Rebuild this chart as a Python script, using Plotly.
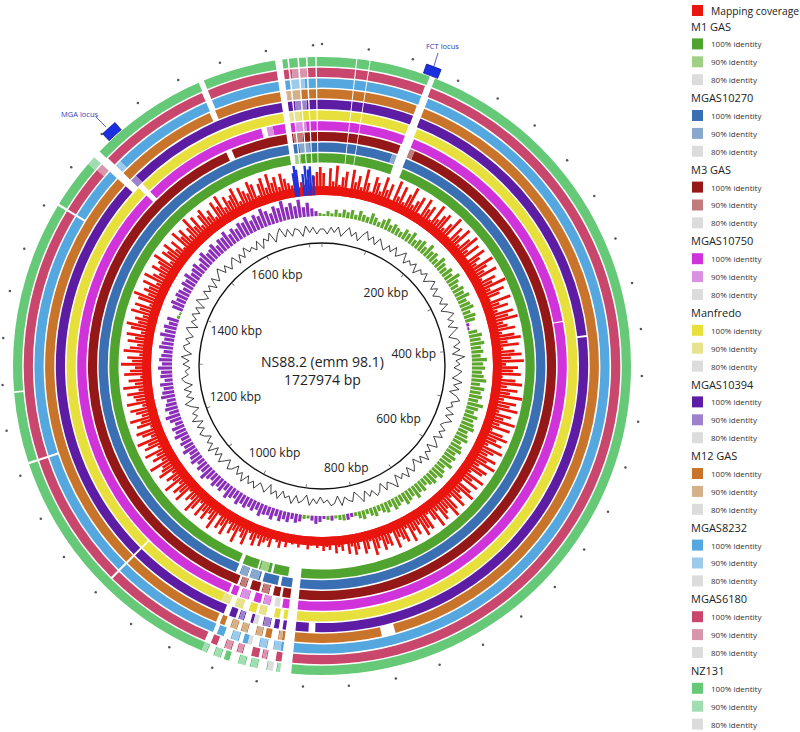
import math
import plotly.graph_objects as go

# ---------------- data ----------------
GENOME_KBP = 1727.974
genome_name = "NS88.2 (emm 98.1)"
genome_len_label = "1727974 bp"

strains = ["M1 GAS", "MGAS10270", "M3 GAS", "MGAS10750", "Manfredo",
           "MGAS10394", "M12 GAS", "MGAS8232", "MGAS6180", "NZ131"]
color_100 = ["#4fa32e", "#3b6fb3", "#951818", "#d033da", "#e6df3c",
             "#5c1ca4", "#c8742a", "#55a8df", "#c9466c", "#66c977"]
color_90 = ["#a0d086", "#88a7cc", "#c07b7b", "#d991e2", "#e6e290",
            "#9d82cb", "#d4b18b", "#9dcaea", "#d796ab", "#a0ddb2"]
color_80 = "#dcdcdc"
identity_levels = ["100% identity", "90% identity", "80% identity"]
coverage_color = "#e8160f"
coverage_label = "Mapping coverage"

# BLAST-hit gaps shared by every ring (kbp)
common_gaps = [[30.6, 31.6], [42.6, 43.5], [891.5, 901.5], [1686, 1692.5],
               [1697, 1698.4], [1706, 1707.4], [1713.6, 1715], [1722, 1723.2]]

# ring-specific gaps (kbp), inner ring first
ring_gaps = [
    [[94, 107], [901.5, 908], [928, 931], [947, 949], [969, 974]],
    [[94, 106], [915, 919], [938, 942], [955, 958], [968, 973]],
    [[94, 106], [911, 914], [922, 927], [936, 939], [950, 955], [963, 966], [1612, 1619]],
    [[95, 106], [381, 382.2], [909, 912], [918, 923], [931, 934], [942, 948], [958, 962],
     [969, 972], [1508, 1514], [1659, 1665]],
    [[95, 105], [906, 910], [916, 925], [933, 936], [944, 951], [960, 966], [1078, 1080],
     [1508, 1514]],
    [[96, 104], [400, 402], [871, 878], [905, 909], [914, 918], [926, 931], [939, 946],
     [952, 955], [962, 968], [1078, 1080], [1500, 1508]],
    [[96, 104], [790, 804], [908, 915], [921, 924], [931, 939], [946, 950], [957, 963],
     [968, 972], [1078, 1080], [1500, 1508], [1613, 1619]],
    [[97, 104], [911, 917], [925, 932], [941, 945], [953, 960], [967, 971], [1078, 1080],
     [1207, 1209], [1446, 1448], [1500, 1508], [1614, 1620]],
    [[97, 103], [907, 915], [920, 923], [930, 938], [944, 949], [956, 963], [969, 975],
     [1078, 1080], [1207, 1209], [1446, 1448], [1500, 1508], [1614, 1620]],
    [[98, 103], [905, 908], [914, 922], [929, 933], [940, 948], [953, 956], [963, 969],
     [1207, 1209], [1272, 1273.5], [1446, 1448], [1500, 1507], [1615, 1620]],
]
# 90% identity stretches (kbp)
ring_light = [
    [[935, 945], [1693, 1700]],
    [[88, 94], [944, 954], [959, 967], [1700, 1712]],
    [[106, 112], [928, 935], [956, 962], [1694, 1705]],
    [[924, 930], [949, 957], [1665, 1672], [1699, 1710]],
    [[926, 932], [952, 959], [967, 975], [1693, 1704]],
    [[919, 925], [947, 951], [1508, 1515], [1700, 1712]],
    [[904, 907], [925, 930], [940, 945], [951, 956], [1693, 1706]],
    [[904, 910], [918, 924], [946, 952], [1508, 1514], [1698, 1711]],
    [[916, 919], [939, 943], [950, 955], [1493, 1500], [1700, 1713]],
    [[901, 904], [923, 928], [934, 939], [957, 962], [970, 974], [1492, 1500]],
]
# 80% identity stretches (kbp)
ring_faint = [[], [], [], [[912, 918]], [], [[931, 936]], [], [[932, 936]], [], [[908, 913]]]

# mapping coverage (height of each of 360 equal bins)
coverage = [
    22, 9, 27, 14, 30, 11, 19, 25, 8, 28, 16, 23, 12, 31, 18, 10, 26, 21, 13, 29,
    17, 24, 9, 30, 15, 27, 12, 22, 31, 14, 20, 26, 10, 28, 19, 24, 11, 30, 16, 23,
    27, 13, 21, 31, 10, 25, 18, 29, 12, 23, 30, 15, 26, 9, 28, 20, 14, 31, 22, 17,
    29, 11, 24, 19, 32, 14, 27, 21, 10, 30, 17, 25, 13, 28, 22, 31, 15, 19, 26, 12,
    24, 30, 16, 27, 11, 22, 29, 18, 31, 13, 25, 20, 28, 10, 23, 30, 15, 26, 19, 32,
    14, 27, 21, 30, 12, 25, 18, 31, 16, 28, 11, 23, 29, 19, 26, 13, 30, 22, 17, 28,
    20, 31, 15, 26, 23, 12, 29, 18, 27, 10, 24, 30, 16, 21, 28, 13, 25, 31, 19, 22,
    27, 14, 30, 20, 11, 26, 23, 29, 15, 24, 18, 28, 12, 25, 21, 17, 27, 10, 22, 19,
    24, 13, 20, 26, 11, 18, 22, 9, 16, 21, 12, 19, 8, 15, 11, 17, 7, 13, 10, 14,
    6, 11, 5, 9, 13, 4, 8, 12, 7, 10, 5, 14, 9, 16, 11, 7, 18, 12, 15, 20,
    13, 22, 17, 11, 25, 19, 14, 27, 16, 21, 12, 26, 18, 23, 10, 28, 20, 15, 24, 17,
    25, 12, 22, 28, 16, 20, 11, 27, 19, 24, 14, 29, 17, 22, 13, 26, 21, 18, 30, 15,
    23, 17, 28, 12, 25, 20, 30, 14, 22, 27, 11, 24, 19, 29, 16, 21, 26, 13, 28, 18,
    20, 26, 14, 29, 17, 23, 11, 27, 21, 16, 30, 19, 24, 12, 28, 22, 15, 25, 18, 27,
    13, 24, 29, 18, 22, 15, 28, 20, 26, 12, 25, 31, 17, 23, 19, 27, 14, 29, 21, 16,
    26, 19, 23, 30, 13, 25, 21, 28, 16, 24, 11, 29, 20, 26, 15, 22, 31, 18, 27, 14,
    24, 28, 17, 22, 12, 27, 20, 30, 15, 25, 19, 23, 29, 13, 26, 21, 17, 28, 24, 11,
    22, 27, 16, 29, 19, 24, 13, 26, 20, 15, 12, 18, 9, 14, 11, 16, 10, 19, 23, 28,
]
# phage-like coverage peaks drawn in blue
phage_kbp = [1686.5, 1689, 1691.5, 1700, 1704, 1708, 1711, 1715]
phage_height = [24, 31, 27, 22, 30, 26, 29, 20]

# GC skew (240 bins; + green, - purple)
gc_skew = [
    2, 5, 3, 7, 4, 8, 6, 9, 5, 10, 7, 6, 11, 8, 5, 9, 12, 7, 10, 8,
    6, 11, 9, 13, 7, 10, 12, 8, 14, 9, 11, 7, 13, 10, 8, 12, 9, 15, 11, 8,
    12, 10, 14, 9, 11, 13, 8, 12, 10, -3, -2, 9, 13, 11, 14, 10, 12, 9, 15, 11,
    13, 10, 12, 15, 9, 14, 11, 13, 10, 16, 12, 9, 14, 11, 13, 15, 10, 12, 14, 9,
    12, 14, 10, 13, 11, 15, 9, 12, 14, 10, 13, 11, 8, 12, 10, 14, 9, 11, 13, 8,
    10, 12, 7, 11, 9, 6, 10, 8, 5, 9, 7, 4, -4, -6, 6, 5, 3, -5, 4, -3,
    -6, -8, -5, 3, 4, -7, -9, -6, -10, -8, -11, -7, -12, -9, -10, -13, -8, -11, -9, -12,
    -10, -13, -9, -11, -14, -8, -12, -10, -13, -9, -11, -15, -10, -12, -8, -13, -11, -9, -14, -10,
    -12, -9, -14, -11, -13, -8, -12, -15, -10, -13, -11, -9, -14, -12, -10, -13, -8, -12, -11, -14,
    -10, -13, -11, -9, -14, -12, -10, -15, -11, -13, -9, -12, 3, 2, -11, -14, -10, -13, -12, -9,
    -13, -11, -15, -10, -12, -14, -9, -13, -16, -11, -12, -15, -10, -14, -13, -17, -11, -15, -12, -16,
    -14, -18, -12, -16, -13, -19, -15, -11, -17, -14, -20, -13, -16, -12, -18, -10, -14, -8, -5, 3,
]
# GC content deviation (240 bins)
gc_content = [
    2, -3, 4, -1, 5, -4, 1, 6, -2, 3, -5, 2, 7, -1, 4, -3, 5, 0, -4, 3,
    -2, 5, -3, 1, 6, -4, 2, -1, 4, -5, 3, 0, 5, -3, 2, 6, -2, 4, -4, 1,
    3, -2, 5, -4, 2, 7, -1, 4, -3, 6, 0, -5, 3, 5, -2, 4, -4, 8, -1, 3,
    -3, 5, 1, -4, 6, -2, 4, -5, 3, 7, -1, 2, -4, 5, -2, 6, 0, -3, 4, -1,
    5, -3, 2, 6, -4, 3, -1, 7, -2, 4, -5, 1, 5, -3, 6, -1, 3, -4, 8, 2,
    -2, 5, -4, 3, 6, -1, 4, -3, 7, 0, -5, 4, 2, -2, 6, -4, 3, 5, -1, 2,
    -4, 3, -2, 5, -5, 1, 4, -3, 6, -1, 2, -4, 5, -2, 3, -6, 4, 0, -3, 5,
    -1, 4, -3, 6, -2, 3, -5, 2, 5, -4, 1, 6, -2, 4, -3, 7, -1, 3, -4, 2,
    5, -2, 4, -4, 6, -1, 3, -5, 2, 7, -3, 4, -2, 5, -4, 3, 6, -1, 2, -3,
    4, -2, 6, -4, 3, 5, -1, 4, -3, 2, 6, -5, 3, -1, 5, -2, 4, -4, 7, 1,
    -3, 5, -1, 4, -4, 6, -2, 3, 8, -1, 5, -3, 2, 6, -4, 4, -2, 7, 0, 3,
    -2, 6, -4, 5, 1, 8, -3, 4, 9, -1, 6, -2, 5, 3, -4, 6, -1, 4, -3, 2,
]

tick_kbp = [0, 100, 200, 300, 400, 500, 600, 700, 800, 900, 1000, 1100, 1200,
            1300, 1400, 1500, 1600, 1700]
label_kbp = [200, 400, 600, 800, 1000, 1200, 1400, 1600]
label_text = ["200 kbp", "400 kbp", "600 kbp", "800 kbp", "1000 kbp",
              "1200 kbp", "1400 kbp", "1600 kbp"]

loci_name = ["FCT locus", "MGA locus"]
loci_kbp = [98.4, 1527.0]

# small stray marks outside the map (angle deg, radius px-units)
dot_theta = [349.9, 358.4, 0, 341.4, 333.3, 325, 308.4, 8.4, 16.5, 25.5, 33.3, 41.5, 50,
             58, 66.5, 75, 83.4, 91.8, 100, 108.5, 117, 125, 133.5, 141.5, 150, 158.5,
             166.7, 175.2, 183.4, 191.7, 200, 208.5, 216.5, 225, 233.5, 241.5, 250,
             258.4, 266.6, 275, 283.5, 291.5, 300, 316.5]
dot_r = [320, 321, 322, 320, 320, 321, 320, 320, 320, 316, 320, 321, 320, 321, 320, 321,
         321, 320, 321, 320, 321, 320, 321, 320, 322, 321, 321, 321, 321, 322, 321, 320,
         321, 320, 321, 320, 321, 322, 320, 320, 321, 320, 321, 320]

# ---------------- layout constants ----------------
W, H = 800, 732
CX, CY, RMAX = 322, 366, 322
FONT = "Open Sans"


def deg(k):
    return k / GENOME_KBP * 360.0


def segments(gaps, light, faint):
    pts = {0.0, GENOME_KBP}
    for lst in (gaps, light, faint):
        for a, b in lst:
            pts.add(float(a))
            pts.add(float(b))
    pts = sorted(pts)
    out = []
    for a, b in zip(pts[:-1], pts[1:]):
        m = (a + b) / 2
        if any(x <= m <= y for x, y in gaps):
            lvl = None
        elif any(x <= m <= y for x, y in faint):
            lvl = 80
        elif any(x <= m <= y for x, y in light):
            lvl = 90
        else:
            lvl = 100
        if out and out[-1][2] == lvl:
            out[-1][1] = b
        else:
            out.append([a, b, lvl])
    return out


fig = go.Figure()


def ring_trace(segs, inner, thick, color):
    if not segs:
        return
    fig.add_trace(go.Barpolar(
        theta=[deg((a + b) / 2) for a, b in segs],
        width=[deg(b - a) for a, b in segs],
        r=[thick] * len(segs), base=[inner] * len(segs),
        marker=dict(color=color, line=dict(width=0)),
        showlegend=False, hoverinfo="skip"))


def spikes(theta, heights, base, width, color):
    th = [t for t, h in zip(theta, heights) if h > 0]
    hh = [h for h in heights if h > 0]
    fig.add_trace(go.Barpolar(theta=th, r=hh, base=[base] * len(th), width=[width] * len(th),
                              marker=dict(color=color, line=dict(width=0)),
                              showlegend=False, hoverinfo="skip"))


# BLAST rings
for i in range(len(strains)):
    outer = 309 - 10.7 * (9 - i)
    thick = 9.2
    segs = segments(common_gaps + ring_gaps[i], ring_light[i], ring_faint[i])
    for lvl, col in ((100, color_100[i]), (90, color_90[i]), (80, color_80)):
        ring_trace([(a, b) for a, b, l in segs if l == lvl], outer - thick, thick, col)

# inner black circle and ticks
fig.add_trace(go.Barpolar(theta=[180], width=[360], r=[1.4], base=[122.3],
                          marker=dict(color="#111", line=dict(width=0)),
                          showlegend=False, hoverinfo="skip"))
fig.add_trace(go.Barpolar(theta=[deg(k) for k in tick_kbp], width=[0.35] * len(tick_kbp),
                          r=[3.5] * len(tick_kbp), base=[119] * len(tick_kbp),
                          marker=dict(color="#555", line=dict(width=0)),
                          showlegend=False, hoverinfo="skip"))

# GC content line
n = len(gc_content)
gth = [(j + 0.5) * 360.0 / n for j in range(n)]
fig.add_trace(go.Scatterpolar(theta=gth + [gth[0]], r=[135 + v for v in gc_content] + [135 + gc_content[0]],
                              mode="lines", line=dict(color="#111", width=0.8),
                              showlegend=False, hoverinfo="skip"))

# GC skew
n = len(gc_skew)
sth = [(j + 0.5) * 360.0 / n for j in range(n)]
spikes(sth, [max(v, 0) for v in gc_skew], 150, 1.15, "#5ea72c")
spikes(sth, [max(-v, 0) for v in gc_skew], 150, 1.15, "#8b2fba")

# mapping coverage
n = len(coverage)
cth = [(j + 0.5) * 360.0 / n for j in range(n)]
fig.add_trace(go.Barpolar(theta=[180], width=[360], r=[9], base=[171],
                          marker=dict(color=coverage_color, line=dict(width=0)),
                          showlegend=False, hoverinfo="skip"))
spikes(cth, coverage, 171, 0.8, coverage_color)
spikes([deg(k) for k in phage_kbp], phage_height, 171, 0.7, "#2233d8")

# loci markers
fig.add_trace(go.Barpolar(theta=[deg(k) for k in loci_kbp], r=[9.5, 9.5], base=[310, 310],
                          width=[2.8, 3.0],
                          marker=dict(color="#1b2fe0", line=dict(width=0.8, color="#0c1a99")),
                          showlegend=False, hoverinfo="skip"))

# stray dots
fig.add_trace(go.Scatterpolar(theta=dot_theta, r=dot_r, mode="markers", cliponaxis=False,
                              marker=dict(size=2.5, color="#555"),
                              showlegend=False, hoverinfo="skip"))

# tick labels
lab_th = [deg(k) for k in label_kbp]
lab_r = [118 - (25 * abs(math.sin(math.radians(t))) + 7 * abs(math.cos(math.radians(t)))) for t in lab_th]
fig.add_trace(go.Scatterpolar(theta=lab_th, r=lab_r, mode="text", text=label_text,
                              textfont=dict(family=FONT, size=12, color="#222"),
                              showlegend=False, hoverinfo="skip"))


def px(x):
    return x / W


def py(y):
    return 1 - y / H


annotations = [
    dict(x=px(CX), y=py(371), xref="paper", yref="paper", text=genome_name + "<br>" + genome_len_label,
         showarrow=False, font=dict(family=FONT, size=14, color="#222"), xanchor="center", yanchor="middle"),
    dict(x=px(442), y=py(46), xref="paper", yref="paper", text=loci_name[0], showarrow=False,
         font=dict(family=FONT, size=7.5, color="#2b3fb3"), xanchor="center", yanchor="middle"),
    dict(x=px(79), y=py(114), xref="paper", yref="paper", text=loci_name[1], showarrow=False,
         font=dict(family=FONT, size=7.5, color="#2b3fb3"), xanchor="center", yanchor="middle"),
]
shapes = [
    dict(type="line", xref="paper", yref="paper", x0=px(438), y0=py(53), x1=px(434), y1=py(66),
         line=dict(color="#2b3fb3", width=0.8)),
    dict(type="line", xref="paper", yref="paper", x0=px(96), y0=py(117), x1=px(106), y1=py(127),
         line=dict(color="#2b3fb3", width=0.8)),
]

# legend (drawn)
SW_X0, SW_X1, TXT_X, TITLE_X = 692, 703, 709, 689


def swatch(yc, color, h=11):
    shapes.append(dict(type="rect", xref="paper", yref="paper", x0=px(SW_X0), x1=px(SW_X1),
                       y0=py(yc + h / 2), y1=py(yc - h / 2), fillcolor=color, line=dict(width=0)))


swatch(10.5, coverage_color)
annotations.append(dict(x=px(TXT_X), y=py(10.5), xref="paper", yref="paper", text=coverage_label,
                        showarrow=False, xanchor="left", yanchor="middle",
                        font=dict(family=FONT, size=10.3, color="#222")))
for g, name in enumerate(strains):
    yt = 26 + 71.6 * g
    annotations.append(dict(x=px(TITLE_X), y=py(yt), xref="paper", yref="paper", text=name,
                            showarrow=False, xanchor="left", yanchor="middle",
                            font=dict(family=FONT, size=11, color="#222")))
    for k, (lab, col) in enumerate(zip(identity_levels, (color_100[g], color_90[g], color_80))):
        yy = yt + 17.9 * (k + 1)
        swatch(yy, col)
        annotations.append(dict(x=px(TXT_X), y=py(yy), xref="paper", yref="paper", text=lab,
                                showarrow=False, xanchor="left", yanchor="middle",
                                font=dict(family=FONT, size=8, color="#333")))

fig.update_layout(
    width=W, height=H, margin=dict(l=0, r=0, t=0, b=0),
    paper_bgcolor="white", plot_bgcolor="white", showlegend=False,
    polar=dict(
        domain=dict(x=[(CX - RMAX) / W, (CX + RMAX) / W],
                    y=[(H - CY - RMAX) / H, (H - CY + RMAX) / H]),
        bgcolor="white", barmode="overlay", bargap=0, hole=0,
        radialaxis=dict(range=[0, RMAX], visible=False, showgrid=False),
        angularaxis=dict(rotation=90, direction="clockwise", visible=False, showgrid=False),
    ),
    annotations=annotations, shapes=shapes,
)

fig.write_html("out.html", config={"displayModeBar": False},
               post_script="document.body.style.margin='0px';")
